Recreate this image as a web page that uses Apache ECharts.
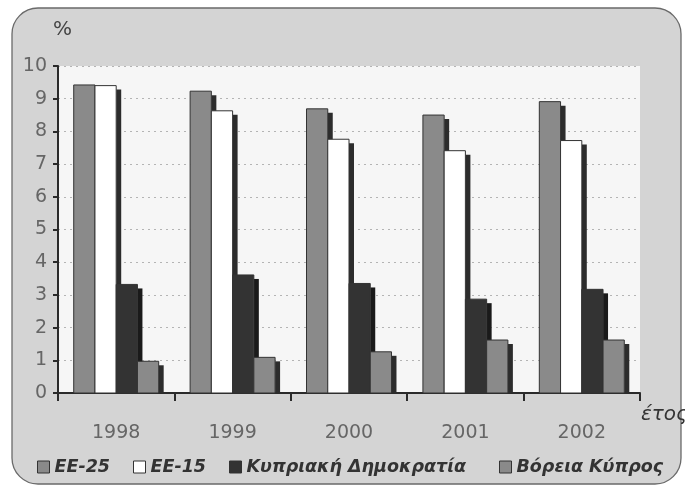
<!DOCTYPE html>
<html><head><meta charset="utf-8">
<script src="https://cdn.jsdelivr.net/npm/echarts@6/dist/echarts.min.js"></script>
<style>html,body{margin:0;padding:0;background:#fff}#c{width:685px;height:488px}</style>
</head><body><div id="c"></div>
<script>
const categories = ['1998', '1999', '2000', '2001', '2002'];
const seriesNames = ['ΕΕ-25', 'ΕΕ-15', 'Κυπριακή Δημοκρατία', 'Βόρεια Κύπρος'];
const ee25 = [9.42, 9.23, 8.69, 8.5, 8.91];
const ee15 = [9.4, 8.63, 7.76, 7.41, 7.72];
const kyp = [3.32, 3.61, 3.35, 2.87, 3.17];
const vor = [0.97, 1.09, 1.26, 1.62, 1.62];
const yTicks = [0, 1, 2, 3, 4, 5, 6, 7, 8, 9, 10];

const font = '"DejaVu Sans", sans-serif';
const fills = ['#8a8a8a', '#ffffff', '#333333', '#8a8a8a'];
const shades = ['#2c2c2c', '#2c2c2c', '#1a1a1a', '#2c2c2c'];
const values = [ee25, ee15, kyp, vor];
const legendLeft = [32, 128, 224, 494];

function makeRender(si) {
  return function (params, api) {
    const cat = api.value(0), v = api.value(1);
    const base = api.coord([cat, 0]);
    const top = api.coord([cat, v]);
    const band = api.size([1, 0])[0];
    const bw = band * 0.73 / 4;
    const x0 = base[0] - 2 * bw + si * bw;
    const h = base[1] - top[1];
    const dx = 5, dy = 4;
    return {
      type: 'group',
      children: [
        { type: 'rect', shape: { x: x0 + bw, y: top[1] + dy, width: dx, height: Math.max(0, h - dy) },
          style: { fill: shades[si] } },
        { type: 'rect', shape: { x: x0, y: top[1], width: bw, height: h },
          style: { fill: fills[si], stroke: '#333', lineWidth: 1 } }
      ]
    };
  };
}

const chart = echarts.init(document.getElementById('c'));
chart.setOption({
  animation: false,
  backgroundColor: '#ffffff',
  graphic: [
    { type: 'rect', z: -10, shape: { x: 12, y: 8, width: 669, height: 476, r: 26 },
      style: { fill: '#d4d4d4', stroke: '#6a6a6a', lineWidth: 1.3 } },
    { type: 'text', left: 53, top: 20, style: { text: '%', font: '20px ' + font, fill: '#444' } },
    { type: 'text', left: 641, top: 405, style: { text: 'έτος', font: 'italic 20px ' + font, fill: '#333' } }
  ],
  grid: { left: 58, right: 45, top: 66, bottom: 95, show: true, backgroundColor: '#f6f6f6', borderWidth: 0 },
  legend: seriesNames.map((n, i) => ({
    top: 453, left: legendLeft[i], itemWidth: 12, itemHeight: 12, itemGap: 0,
    icon: 'rect',
    textStyle: { fontFamily: font, fontStyle: 'italic', fontWeight: 'bold', fontSize: 17.5, color: '#333' },
    data: [{ name: n, itemStyle: { color: fills[i], borderColor: '#333', borderWidth: 1 } }]
  })),
  xAxis: {
    type: 'category', data: categories,
    axisLine: { lineStyle: { color: '#2a2a2a', width: 2 } },
    axisTick: { show: true, length: 8, lineStyle: { color: '#2a2a2a', width: 2 } },
    axisLabel: { fontFamily: font, fontSize: 19, color: '#666', margin: 31 }
  },
  yAxis: {
    type: 'value', min: 0, max: 10, interval: 1,
    axisLine: { show: true, lineStyle: { color: '#2a2a2a', width: 2 } },
    axisTick: { show: true, length: 5, lineStyle: { color: '#2a2a2a', width: 2 } },
    axisLabel: { fontFamily: font, fontSize: 19, color: '#666', margin: 11,
      formatter: v => yTicks.includes(v) ? String(v) : '' },
    splitLine: { show: true, lineStyle: { color: '#b4b4b4', type: [2, 4], width: 1 } }
  },
  series: values.map((d, i) => ({
    name: seriesNames[i], type: 'custom',
    itemStyle: { color: fills[i] },
    encode: { x: 0, y: 1 },
    data: d.map((v, k) => [k, v]),
    renderItem: makeRender(i)
  }))
});
</script></body></html>
